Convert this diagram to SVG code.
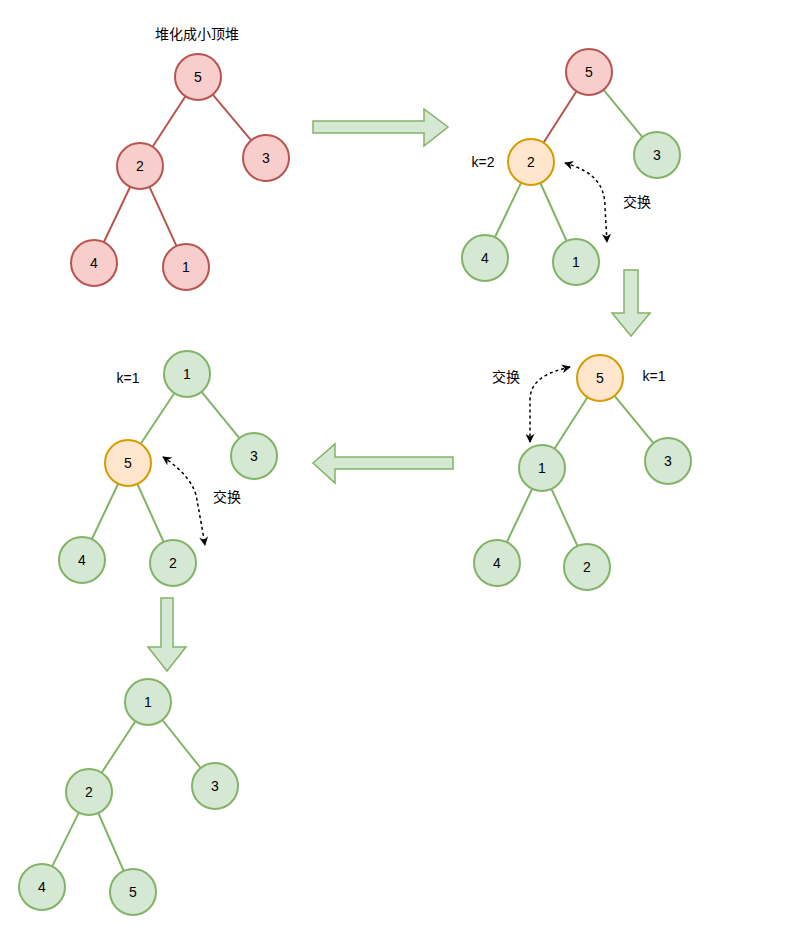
<svg xmlns="http://www.w3.org/2000/svg" width="786" height="926" viewBox="0 0 786 926">
<style>
.n circle{stroke-width:2}
.red circle{fill:#f8cecc;stroke:#b85450}
.grn circle{fill:#d5e8d4;stroke:#82b366}
.org circle{fill:#ffe6cc;stroke:#d79b00}
text{font-family:"Liberation Sans","Noto Sans CJK SC",sans-serif;font-size:14px;fill:#000;text-anchor:middle;dominant-baseline:central}
.e{stroke-width:2;fill:none}
.er{stroke:#b85450}
.eg{stroke:#82b366}
.big{fill:#d5e8d4;stroke:#82b366;stroke-width:1.5}
.sw{stroke:#000;stroke-width:1.5;fill:none;stroke-dasharray:3 3;marker-start:url(#ah);marker-end:url(#ah)}
</style>
<defs>
<marker id="ah" viewBox="0 0 10 10" refX="9" refY="5" markerWidth="9" markerHeight="9" markerUnits="userSpaceOnUse" orient="auto-start-reverse">
<path d="M0,0 L10,5 L0,10 L3,5 z" fill="#000"/>
</marker>
</defs>
<rect width="786" height="926" fill="#fff"/>
<g id="connectors">
<line class="e er" x1="185.4" y1="96.3" x2="152.6" y2="146.7"/>
<line class="e er" x1="212.8" y1="94.6" x2="251.2" y2="140.4"/>
<line class="e er" x1="130.2" y1="186.8" x2="103.8" y2="242.2"/>
<line class="e er" x1="149.5" y1="186.9" x2="176.5" y2="246.1"/>
<line class="e er" x1="576.5" y1="91.3" x2="543.5" y2="142.7"/>
<line class="e eg" x1="603.6" y1="89.8" x2="642.4" y2="137.2"/>
<line class="e eg" x1="521.1" y1="182.7" x2="494.9" y2="237.3"/>
<line class="e eg" x1="540.4" y1="183" x2="566.6" y2="241"/>
<line class="e eg" x1="587.5" y1="397.3" x2="554.5" y2="448.7"/>
<line class="e eg" x1="614.6" y1="395.8" x2="653.4" y2="443.2"/>
<line class="e eg" x1="532.2" y1="488.8" x2="506.8" y2="542.2"/>
<line class="e eg" x1="551.5" y1="489" x2="577.5" y2="546"/>
<line class="e eg" x1="174.3" y1="393.2" x2="140.7" y2="443.8"/>
<line class="e eg" x1="201.6" y1="391.8" x2="239.4" y2="438.2"/>
<line class="e eg" x1="118.2" y1="483.8" x2="91.8" y2="539.2"/>
<line class="e eg" x1="137.4" y1="484" x2="163.6" y2="542"/>
<line class="e eg" x1="135.4" y1="721.2" x2="101.6" y2="772.8"/>
<line class="e eg" x1="162.4" y1="720" x2="200.6" y2="768"/>
<line class="e eg" x1="78.8" y1="812.6" x2="52.2" y2="866.4"/>
<line class="e eg" x1="98.3" y1="813" x2="123.7" y2="871"/>
<path class="sw" d="M565,163 C595,172 605,185 605,208 L607,242"/>
<path class="sw" d="M570,367 C548,372 530,380 530,400 L530,442"/>
<path class="sw" d="M163,457 C183,470 195,485 197,500 Q201,522 205,545"/>
<polygon class="big" points="313,121 424,121 424,109 448,127 424,146 424,133 313,133"/>
<polygon class="big" points="624,270 638,270 638,313 650,313 631,336 612,313 624,313"/>
<polygon class="big" points="453,457 335,457 335,444 313,463 335,483 335,469 453,469"/>
<polygon class="big" points="161,598 173,598 173,647 186,647 167,671 148,647 161,647"/>
</g>
<g id="labels">
<text x="197" y="34">堆化成小顶堆</text>
<text x="483" y="162">k=2</text>
<text x="637" y="202">交换</text>
<text x="506" y="377">交换</text>
<text x="654" y="376">k=1</text>
<text x="128" y="378">k=1</text>
<text x="227" y="497">交换</text>
</g>
<g id="t1-5" class="n red"><circle cx="198" cy="77" r="23"/><text x="198" y="77">5</text></g>
<g id="t1-2" class="n red"><circle cx="140" cy="166" r="23"/><text x="140" y="166">2</text></g>
<g id="t1-3" class="n red"><circle cx="266" cy="158" r="23"/><text x="266" y="158">3</text></g>
<g id="t1-4" class="n red"><circle cx="94" cy="263" r="23"/><text x="94" y="263">4</text></g>
<g id="t1-1" class="n red"><circle cx="186" cy="267" r="23"/><text x="186" y="267">1</text></g>
<g id="t2-5" class="n red"><circle cx="589" cy="72" r="23"/><text x="589" y="72">5</text></g>
<g id="t2-2" class="n org"><circle cx="531" cy="162" r="23"/><text x="531" y="162">2</text></g>
<g id="t2-3" class="n grn"><circle cx="657" cy="155" r="23"/><text x="657" y="155">3</text></g>
<g id="t2-4" class="n grn"><circle cx="485" cy="258" r="23"/><text x="485" y="258">4</text></g>
<g id="t2-1" class="n grn"><circle cx="576" cy="262" r="23"/><text x="576" y="262">1</text></g>
<g id="t3-5" class="n org"><circle cx="600" cy="378" r="23"/><text x="600" y="378">5</text></g>
<g id="t3-1" class="n grn"><circle cx="542" cy="468" r="23"/><text x="542" y="468">1</text></g>
<g id="t3-3" class="n grn"><circle cx="668" cy="461" r="23"/><text x="668" y="461">3</text></g>
<g id="t3-4" class="n grn"><circle cx="497" cy="563" r="23"/><text x="497" y="563">4</text></g>
<g id="t3-2" class="n grn"><circle cx="587" cy="567" r="23"/><text x="587" y="567">2</text></g>
<g id="t4-1" class="n grn"><circle cx="187" cy="374" r="23"/><text x="187" y="374">1</text></g>
<g id="t4-5" class="n org"><circle cx="128" cy="463" r="23"/><text x="128" y="463">5</text></g>
<g id="t4-3" class="n grn"><circle cx="254" cy="456" r="23"/><text x="254" y="456">3</text></g>
<g id="t4-4" class="n grn"><circle cx="82" cy="560" r="23"/><text x="82" y="560">4</text></g>
<g id="t4-2" class="n grn"><circle cx="173" cy="563" r="23"/><text x="173" y="563">2</text></g>
<g id="t5-1" class="n grn"><circle cx="148" cy="702" r="23"/><text x="148" y="702">1</text></g>
<g id="t5-2" class="n grn"><circle cx="89" cy="792" r="23"/><text x="89" y="792">2</text></g>
<g id="t5-3" class="n grn"><circle cx="215" cy="786" r="23"/><text x="215" y="786">3</text></g>
<g id="t5-4" class="n grn"><circle cx="42" cy="887" r="23"/><text x="42" y="887">4</text></g>
<g id="t5-5" class="n grn"><circle cx="133" cy="892" r="23"/><text x="133" y="892">5</text></g>
</svg>
